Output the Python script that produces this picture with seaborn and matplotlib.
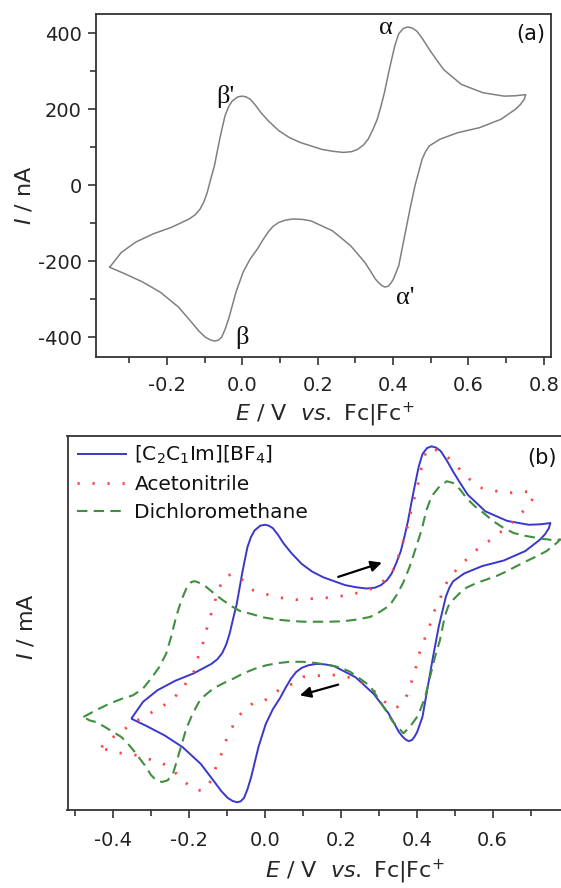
import numpy as np
import pandas as pd
import matplotlib
matplotlib.use("Agg")
import matplotlib.pyplot as plt
from matplotlib.ticker import MultipleLocator, NullLocator
import seaborn as sns

# ---------------- data ----------------
# [C2C1Im][BF4] cyclic voltammogram (panel a, and blue curve in panel b)
il_E = [-0.352, -0.321, -0.283, -0.236, -0.188, -0.141, -0.125, -0.112, -0.102, -0.093,
        -0.084, -0.074, -0.067, -0.060, -0.053, -0.046, -0.037, -0.027, -0.012, 0.000,
        0.010, 0.021, 0.035, 0.049, 0.070, 0.097, 0.125, 0.154, 0.211, 0.240,
        0.268, 0.290, 0.306, 0.322, 0.334, 0.346, 0.358, 0.368, 0.377, 0.387,
        0.396, 0.405, 0.415, 0.427, 0.439, 0.451, 0.463, 0.478, 0.496, 0.515,
        0.534, 0.581, 0.638, 0.695, 0.725, 0.752,
        0.748, 0.738, 0.724, 0.686, 0.629, 0.572, 0.525, 0.496, 0.486, 0.477,
        0.468, 0.458, 0.443, 0.429, 0.415, 0.401, 0.394, 0.387, 0.378, 0.370,
        0.362, 0.353, 0.340, 0.325, 0.287, 0.239, 0.182, 0.158, 0.135, 0.115,
        0.097, 0.082, 0.068, 0.054, 0.040, 0.021, 0.002, -0.017, -0.036, -0.046,
        -0.055, -0.064, -0.074, -0.085, -0.098, -0.115, -0.131, -0.169, -0.217, -0.264,
        -0.312, -0.352]
il_I = [-216, -177, -150, -128, -111, -89, -78, -63, -44, -19,
        15, 51, 86, 121, 152, 182, 205, 221, 232, 234,
        232, 226, 210, 191, 168, 143, 125, 112, 94, 89,
        86, 88, 94, 106, 121, 145, 173, 208, 243, 290,
        330, 368, 398, 412, 416, 413, 405, 385, 357, 330,
        304, 265, 243, 234, 235, 238,
        226, 212, 199, 173, 151, 138, 121, 103, 88, 68,
        35, -2, -72, -142, -212, -247, -258, -266, -268, -264,
        -257, -247, -226, -203, -159, -120, -94, -90, -89, -92,
        -98, -108, -124, -145, -168, -194, -229, -282, -351, -380,
        -400, -408, -410, -407, -400, -384, -365, -321, -282, -255,
        -233, -216]

# Acetonitrile
acn_E = [-0.431, -0.405, -0.374, -0.348, -0.321, -0.295, -0.269, -0.242, -0.220, -0.203,
         -0.185, -0.177, -0.168, -0.159, -0.153, -0.146, -0.137, -0.128, -0.119, -0.106,
         -0.083, -0.058, -0.031, -0.004, 0.026, 0.053, 0.083, 0.110, 0.141, 0.167,
         0.198, 0.224, 0.250, 0.277, 0.307, 0.334, 0.347, 0.360, 0.369, 0.378,
         0.386, 0.395, 0.404, 0.409, 0.418, 0.426, 0.445, 0.465, 0.488, 0.514,
         0.540, 0.566, 0.593, 0.619, 0.655, 0.681, 0.703, 0.707,
         0.689, 0.663, 0.637, 0.611, 0.584, 0.553, 0.527, 0.505, 0.483, 0.470,
         0.461, 0.448, 0.439, 0.430, 0.417, 0.408, 0.401, 0.395, 0.386, 0.378,
         0.366, 0.343, 0.316, 0.290, 0.263, 0.237, 0.211, 0.184, 0.158, 0.132,
         0.101, 0.075, 0.048, 0.018, -0.004, -0.031, -0.057, -0.079, -0.092, -0.102,
         -0.112, -0.124, -0.141, -0.163, -0.190, -0.216, -0.242, -0.269, -0.295, -0.321,
         -0.348, -0.379, -0.405, -0.431]
acn_I = [-282, -262, -243, -227, -212, -200, -187, -169, -150, -127,
         -104, -76, -53, -30, -7, 16, 40, 67, 90, 113,
         121, 105, 82, 75, 67, 63, 60, 62, 63, 65,
         68, 72, 77, 84, 99, 122, 146, 184, 208, 238,
         270, 300, 331, 355, 385, 409, 410, 402, 386, 362,
         339, 320, 316, 310, 308, 310, 312, 296,
         273, 250, 227, 211, 192, 173, 150, 130, 107, 84,
         61, 37, 14, -13, -38, -61, -84, -108, -131, -154,
         -177, -193, -177, -154, -135, -122, -119, -115, -115, -117,
         -119, -135, -142, -162, -176, -180, -197, -223, -247, -266,
         -293, -316, -359, -384, -379, -359, -336, -320, -313, -305,
         -299, -296, -293, -282]

# Dichloromethane
dcm_E = [-0.478, -0.444, -0.409, -0.374, -0.348, -0.321, -0.300, -0.278, -0.260, -0.247,
         -0.234, -0.220, -0.207, -0.194, -0.186, -0.177, -0.155, -0.133, -0.111, -0.084,
         -0.066, -0.040, -0.004, 0.031, 0.066, 0.101, 0.136, 0.171, 0.206, 0.242,
         0.277, 0.303, 0.329, 0.347, 0.364, 0.382, 0.399, 0.413, 0.426, 0.439,
         0.457, 0.479, 0.496, 0.514, 0.531, 0.553, 0.575, 0.602, 0.628, 0.655,
         0.681, 0.707, 0.734, 0.764, 0.778,
         0.769, 0.742, 0.716, 0.690, 0.663, 0.637, 0.610, 0.584, 0.558, 0.531,
         0.514, 0.496, 0.483, 0.474, 0.461, 0.448, 0.435, 0.422, 0.404, 0.382,
         0.365, 0.336, 0.303, 0.277, 0.250, 0.224, 0.198, 0.171, 0.136, 0.101,
         0.066, 0.035, 0.004, -0.026, -0.057, -0.083, -0.110, -0.136, -0.158, -0.171,
         -0.181, -0.194, -0.207, -0.216, -0.225, -0.234, -0.242, -0.256, -0.271, -0.286,
         -0.300, -0.313, -0.326, -0.343, -0.361, -0.379, -0.400, -0.422, -0.444, -0.462,
         -0.478]
dcm_I = [-212, -196, -181, -169, -162, -146, -123, -96, -65, -26,
         20, 59, 86, 101, 103, 101, 90, 74, 59, 43,
         34, 28, 19, 14, 11, 9, 9, 9, 10, 14,
         20, 32, 47, 71, 99, 138, 184, 223, 269, 300,
         320, 335, 331, 316, 296, 277, 262, 242, 227, 215,
         209, 205, 201, 198, 200,
         192, 173, 161, 150, 138, 126, 115, 107, 99, 88,
         76, 60, 45, 22, -34, -73, -119, -166, -208, -235,
         -250, -222, -175, -140, -123, -107, -97, -92, -87, -84,
         -84, -87, -92, -100, -111, -123, -134, -146, -162, -173,
         -189, -212, -239, -266, -293, -320, -343, -359, -363, -359,
         -347, -328, -313, -293, -274, -258, -247, -235, -224, -220,
         -212]

legend_labels = ["[C$_2$C$_1$Im][BF$_4$]", "Acetonitrile", "Dichloromethane"]
x_ticks_a = [-0.2, 0.0, 0.2, 0.4, 0.6, 0.8]
y_ticks_a = [-400, -200, 0, 200, 400]
x_ticks_b = [-0.4, -0.2, 0.0, 0.2, 0.4, 0.6]

# ---------------- style ----------------
sns.set_theme(style="ticks")
plt.rcParams['font.family'] = ['DejaVu Sans']
plt.rcParams['axes.unicode_minus'] = False
plt.rcParams['mathtext.fontset'] = 'custom'
plt.rcParams['mathtext.rm'] = 'DejaVu Sans'
plt.rcParams['mathtext.it'] = 'DejaVu Sans:italic'
plt.rcParams['axes.edgecolor'] = '#333333'
plt.rcParams['axes.linewidth'] = 1.3
for ax_ in ('xtick', 'ytick'):
    plt.rcParams[f'{ax_}.color'] = '#333333'
    plt.rcParams[f'{ax_}.labelcolor'] = '#222222'
    plt.rcParams[f'{ax_}.major.width'] = 1.2
    plt.rcParams[f'{ax_}.minor.width'] = 1.2
    plt.rcParams[f'{ax_}.major.size'] = 6
    plt.rcParams[f'{ax_}.minor.size'] = 4
    plt.rcParams[f'{ax_}.direction'] = 'out'
    plt.rcParams[f'{ax_}.labelsize'] = 14

W, H = 561, 888
fig = plt.figure(figsize=(W / 100, H / 100), dpi=100)
fig.patch.set_facecolor('white')

def px_axes(left, top, right, bottom):
    return fig.add_axes([left / W, 1 - bottom / H, (right - left) / W, (bottom - top) / H])

# ---------------- panel (a) ----------------
ax1 = px_axes(95.7, 14, 551, 357)
df_a = pd.DataFrame({"E": il_E, "I": il_I})
sns.lineplot(data=df_a, x="E", y="I", sort=False, estimator=None, ax=ax1,
             color="#808080", lw=1.1)
ax1.set_xlim(-0.389, 0.819)
ax1.set_ylim(-452, 450)
ax1.set_xticks(x_ticks_a)
ax1.set_xticklabels([f"{v:.1f}" for v in x_ticks_a])
ax1.set_yticks(y_ticks_a)
ax1.xaxis.set_minor_locator(MultipleLocator(0.1))
ax1.yaxis.set_minor_locator(MultipleLocator(100))
ax1.tick_params(axis='x', which='both', pad=8)
ax1.tick_params(axis='y', which='both', pad=4)
for s in ax1.spines.values():
    s.set_visible(True)
ax1.set_xlabel(r"$E$ / V  $vs.$ Fc|Fc$^{+}$", fontsize=16)
ax1.set_ylabel(r"$I$ / nA", fontsize=16)
ax1.xaxis.set_label_coords(0.504, -0.128)
ax1.yaxis.set_label_coords(-0.135, 0.47)

greek = dict(family=['Liberation Serif', 'DejaVu Serif'], fontsize=19, color='#111111',
             ha='center', va='center')
ax1.text(0.381, 413, "α", **greek)
ax1.text(-0.046, 234, "β'", **greek)
ax1.text(0.0, -400, "β", **greek)
ax1.text(0.432, -297, "α'", **greek)
ax1.text(0.766, 398, "(a)", fontsize=15, ha='center', va='center', color='#111111')

# ---------------- panel (b) ----------------
ax2 = px_axes(67.5, 436, 568.6, 810)
df_b = pd.concat([
    pd.DataFrame({"E": il_E, "I": il_I, "medium": legend_labels[0]}),
    pd.DataFrame({"E": acn_E, "I": acn_I, "medium": legend_labels[1]}),
    pd.DataFrame({"E": dcm_E, "I": dcm_I, "medium": legend_labels[2]}),
], ignore_index=True)
palette = {legend_labels[0]: "#3838cc", legend_labels[1]: "#ff4444", legend_labels[2]: "#3f8f3f"}
styles = {legend_labels[0]: (0, ()), legend_labels[1]: (0, (0.8, 4.6)), legend_labels[2]: (0, (5, 3))}
widths = {legend_labels[0]: 1.4, legend_labels[1]: 2.0, legend_labels[2]: 1.5}
for lab in legend_labels:
    sub = df_b[df_b["medium"] == lab]
    sns.lineplot(data=sub, x="E", y="I", sort=False, estimator=None, ax=ax2,
                 color=palette[lab], lw=widths[lab], linestyle=styles[lab], label=lab)

ax2.set_xlim(-0.52, 0.80)
ax2.set_ylim(-428, 440)
ax2.set_xticks(x_ticks_b)
ax2.set_xticklabels([f"{v:.1f}" for v in x_ticks_b])
ax2.xaxis.set_minor_locator(MultipleLocator(0.1))
ax2.yaxis.set_major_locator(NullLocator())
ax2.tick_params(axis='x', which='both', pad=9)
for s in ax2.spines.values():
    s.set_visible(True)
ax2.set_xlabel(r"$E$ / V  $vs.$ Fc|Fc$^{+}$", fontsize=16)
ax2.set_ylabel(r"$I$ / mA", fontsize=16)
ax2.xaxis.set_label_coords(0.574, -0.128)
ax2.yaxis.set_label_coords(-0.062, 0.49)

leg = ax2.legend(loc='upper left', frameon=False, fontsize=14.5, handlelength=2.5,
                 handletextpad=0.35, labelspacing=0.45, borderaxespad=0.0,
                 bbox_to_anchor=(0.003, 1.0))
for t in leg.get_texts():
    t.set_color('#111111')

arrow = dict(arrowstyle='-|>', color='black', lw=1.6, mutation_scale=16, shrinkA=0, shrinkB=0)
ax2.annotate("", xy=(0.308, 146), xytext=(0.193, 113), arrowprops=arrow)
ax2.annotate("", xy=(0.092, -162), xytext=(0.193, -137), arrowprops=arrow)
ax2.text(0.73, 390, "(b)", fontsize=15, ha='center', va='center', color='#111111')

fig.savefig("out.png", dpi=100, facecolor='white')
